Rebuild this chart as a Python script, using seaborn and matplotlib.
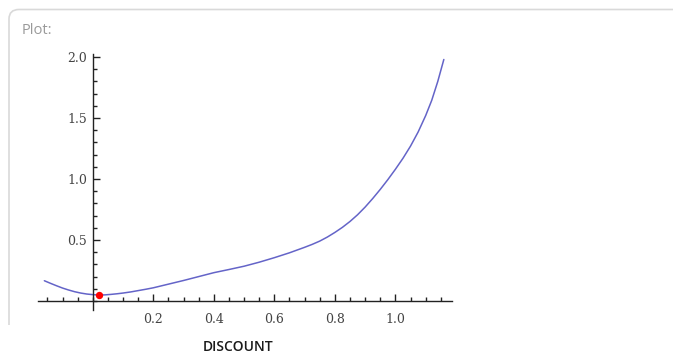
import matplotlib
matplotlib.use("Agg")
import matplotlib.pyplot as plt
from matplotlib.path import Path
from matplotlib.patches import PathPatch
from matplotlib.ticker import MultipleLocator, FixedLocator
import seaborn as sns
import pandas as pd

# data
discount = [-0.16, -0.14, -0.12, -0.10, -0.08, -0.06, -0.04, -0.02, 0.0, 0.02, 0.04,
            0.06, 0.08, 0.1, 0.125, 0.15, 0.175, 0.2, 0.25, 0.3, 0.35, 0.4, 0.45, 0.5,
            0.55, 0.6, 0.65, 0.7, 0.725, 0.75, 0.775, 0.8, 0.825, 0.85, 0.875, 0.9,
            0.925, 0.95, 0.975, 1.0, 1.025, 1.05, 1.075, 1.1, 1.12, 1.14, 1.16]
value = [0.166, 0.145, 0.125, 0.106, 0.09, 0.076, 0.065, 0.057, 0.052, 0.049, 0.05,
         0.054, 0.059, 0.065, 0.074, 0.085, 0.096, 0.108, 0.138, 0.168, 0.2, 0.232,
         0.258, 0.285, 0.318, 0.355, 0.395, 0.44, 0.464, 0.491, 0.524, 0.562, 0.604,
         0.652, 0.707, 0.77, 0.84, 0.915, 0.995, 1.08, 1.17, 1.27, 1.385, 1.52, 1.645,
         1.8, 1.98]
min_point_x = [0.02]
min_point_y = [0.05]
x_tick_values = [0.2, 0.4, 0.6, 0.8, 1.0]
y_tick_values = [0.5, 1.0, 1.5, 2.0]
x_label = "DISCOUNT"
panel_title = "Plot:"

df = pd.DataFrame({"DISCOUNT": discount, "value": value})

sns.set_style("white")
W, H = 673, 353
fig = plt.figure(figsize=(W / 100, H / 100), dpi=100)

def fx(px):
    return px / W
def fy(py):
    return 1 - py / H

# panel border (top and left edges with rounded corner)
verts = [(fx(9), fy(325)), (fx(9), fy(19)), (fx(9), fy(9.5)), (fx(19), fy(9.5)), (fx(675), fy(9.5))]
codes = [Path.MOVETO, Path.LINETO, Path.CURVE3, Path.CURVE3, Path.LINETO]
fig.patches.append(PathPatch(Path(verts, codes), transform=fig.transFigure,
                             fill=False, edgecolor="#d9d9d9", linewidth=1.2))
fig.text(fx(22), fy(31), panel_title, color="#9a9a9a", fontsize=10.5,
         family="Open Sans", va="center", ha="left")

ax = fig.add_axes([38 / W, 1 - 310 / H, 414 / W, 256 / H])
sns.lineplot(data=df, x="DISCOUNT", y="value", ax=ax, color="#6464c8",
             linewidth=1.1, estimator=None, sort=True)
ax.scatter(min_point_x, min_point_y, color="red", s=28, zorder=5, linewidths=0)

ax.set_xlim(-0.181, 1.187)
ax.set_ylim(-0.074, 2.025)
for s in ["top", "right"]:
    ax.spines[s].set_visible(False)
ax.spines["left"].set_position(("data", 0))
ax.spines["bottom"].set_position(("data", 0))
for s in ["left", "bottom"]:
    ax.spines[s].set_color("#222222")
    ax.spines[s].set_linewidth(1.0)

ax.xaxis.set_major_locator(FixedLocator(x_tick_values))
ax.xaxis.set_minor_locator(MultipleLocator(0.05))
ax.yaxis.set_major_locator(FixedLocator(y_tick_values))
ax.yaxis.set_minor_locator(MultipleLocator(0.1))
ax.set_xticklabels([f"{v:.1f}" for v in x_tick_values])
ax.set_yticklabels([f"{v:.1f}" for v in y_tick_values])
ax.tick_params(which="both", direction="in", color="#222222", width=1.0,
               bottom=True, left=True, top=False, right=False)
ax.tick_params(which="major", length=5, labelsize=9, labelcolor="#444444")
ax.tick_params(which="minor", length=3)
ax.tick_params(axis="x", which="major", pad=9)
ax.tick_params(axis="y", which="major", pad=4)
for lab in ax.get_xticklabels() + ax.get_yticklabels():
    lab.set_family("DejaVu Serif")
ax.set_xlabel("")
ax.set_ylabel("")
ax.patch.set_alpha(0)

fig.text(fx(238), fy(347), x_label, fontsize=10, family="Open Sans",
         fontweight="semibold", color="#1a1a1a", ha="center", va="center")

fig.savefig("out.png", dpi=100)
